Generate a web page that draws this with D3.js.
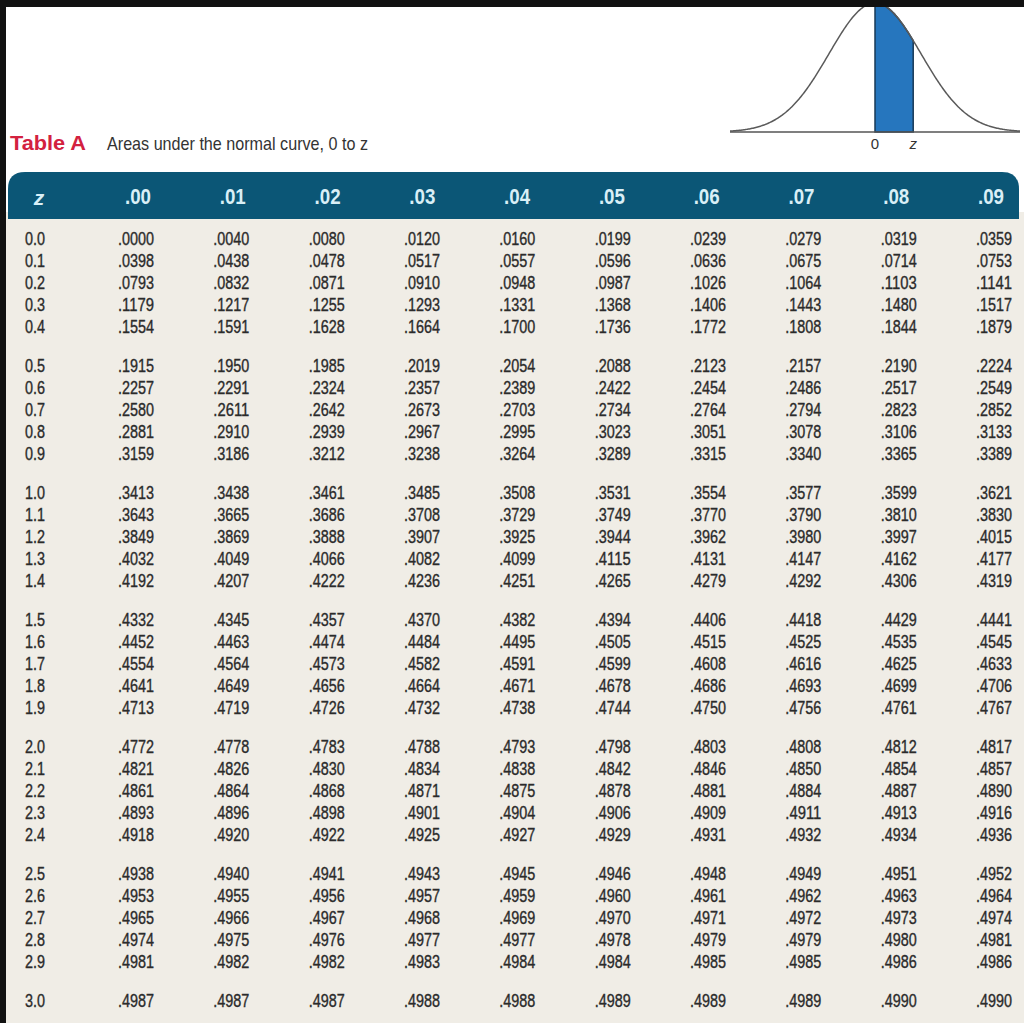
<!DOCTYPE html>
<html>
<head>
<meta charset="utf-8">
<script src="https://cdn.jsdelivr.net/npm/d3@7"></script>
<style>
  html, body { margin: 0; padding: 0; background: #fff; }
  svg { display: block; }
  text { font-family: "Liberation Sans", Arial, sans-serif; }
</style>
</head>
<body>
<div id="chart"></div>
<script>
const WIDTH = 1024
const HEIGHT = 1023

// Row labels (z to one decimal) and column headers (second decimal)
const zRows = [
    0.0, 0.1, 0.2, 0.3, 0.4, 0.5, 0.6, 0.7, 0.8, 0.9,
    1.0, 1.1, 1.2, 1.3, 1.4, 1.5, 1.6, 1.7, 1.8, 1.9,
    2.0, 2.1, 2.2, 2.3, 2.4, 2.5, 2.6, 2.7, 2.8, 2.9,
    3.0
]
const colHeaders = ['.00', '.01', '.02', '.03', '.04', '.05', '.06', '.07', '.08', '.09']

// Areas under the normal curve, 0 to z (one row per z)
const areas = [
    [0.0000, 0.0040, 0.0080, 0.0120, 0.0160, 0.0199, 0.0239, 0.0279, 0.0319, 0.0359],
    [0.0398, 0.0438, 0.0478, 0.0517, 0.0557, 0.0596, 0.0636, 0.0675, 0.0714, 0.0753],
    [0.0793, 0.0832, 0.0871, 0.0910, 0.0948, 0.0987, 0.1026, 0.1064, 0.1103, 0.1141],
    [0.1179, 0.1217, 0.1255, 0.1293, 0.1331, 0.1368, 0.1406, 0.1443, 0.1480, 0.1517],
    [0.1554, 0.1591, 0.1628, 0.1664, 0.1700, 0.1736, 0.1772, 0.1808, 0.1844, 0.1879],
    [0.1915, 0.1950, 0.1985, 0.2019, 0.2054, 0.2088, 0.2123, 0.2157, 0.2190, 0.2224],
    [0.2257, 0.2291, 0.2324, 0.2357, 0.2389, 0.2422, 0.2454, 0.2486, 0.2517, 0.2549],
    [0.2580, 0.2611, 0.2642, 0.2673, 0.2703, 0.2734, 0.2764, 0.2794, 0.2823, 0.2852],
    [0.2881, 0.2910, 0.2939, 0.2967, 0.2995, 0.3023, 0.3051, 0.3078, 0.3106, 0.3133],
    [0.3159, 0.3186, 0.3212, 0.3238, 0.3264, 0.3289, 0.3315, 0.3340, 0.3365, 0.3389],
    [0.3413, 0.3438, 0.3461, 0.3485, 0.3508, 0.3531, 0.3554, 0.3577, 0.3599, 0.3621],
    [0.3643, 0.3665, 0.3686, 0.3708, 0.3729, 0.3749, 0.3770, 0.3790, 0.3810, 0.3830],
    [0.3849, 0.3869, 0.3888, 0.3907, 0.3925, 0.3944, 0.3962, 0.3980, 0.3997, 0.4015],
    [0.4032, 0.4049, 0.4066, 0.4082, 0.4099, 0.4115, 0.4131, 0.4147, 0.4162, 0.4177],
    [0.4192, 0.4207, 0.4222, 0.4236, 0.4251, 0.4265, 0.4279, 0.4292, 0.4306, 0.4319],
    [0.4332, 0.4345, 0.4357, 0.4370, 0.4382, 0.4394, 0.4406, 0.4418, 0.4429, 0.4441],
    [0.4452, 0.4463, 0.4474, 0.4484, 0.4495, 0.4505, 0.4515, 0.4525, 0.4535, 0.4545],
    [0.4554, 0.4564, 0.4573, 0.4582, 0.4591, 0.4599, 0.4608, 0.4616, 0.4625, 0.4633],
    [0.4641, 0.4649, 0.4656, 0.4664, 0.4671, 0.4678, 0.4686, 0.4693, 0.4699, 0.4706],
    [0.4713, 0.4719, 0.4726, 0.4732, 0.4738, 0.4744, 0.4750, 0.4756, 0.4761, 0.4767],
    [0.4772, 0.4778, 0.4783, 0.4788, 0.4793, 0.4798, 0.4803, 0.4808, 0.4812, 0.4817],
    [0.4821, 0.4826, 0.4830, 0.4834, 0.4838, 0.4842, 0.4846, 0.4850, 0.4854, 0.4857],
    [0.4861, 0.4864, 0.4868, 0.4871, 0.4875, 0.4878, 0.4881, 0.4884, 0.4887, 0.4890],
    [0.4893, 0.4896, 0.4898, 0.4901, 0.4904, 0.4906, 0.4909, 0.4911, 0.4913, 0.4916],
    [0.4918, 0.4920, 0.4922, 0.4925, 0.4927, 0.4929, 0.4931, 0.4932, 0.4934, 0.4936],
    [0.4938, 0.4940, 0.4941, 0.4943, 0.4945, 0.4946, 0.4948, 0.4949, 0.4951, 0.4952],
    [0.4953, 0.4955, 0.4956, 0.4957, 0.4959, 0.4960, 0.4961, 0.4962, 0.4963, 0.4964],
    [0.4965, 0.4966, 0.4967, 0.4968, 0.4969, 0.4970, 0.4971, 0.4972, 0.4973, 0.4974],
    [0.4974, 0.4975, 0.4976, 0.4977, 0.4977, 0.4978, 0.4979, 0.4979, 0.4980, 0.4981],
    [0.4981, 0.4982, 0.4982, 0.4983, 0.4984, 0.4984, 0.4985, 0.4985, 0.4986, 0.4986],
    [0.4987, 0.4987, 0.4987, 0.4988, 0.4988, 0.4989, 0.4989, 0.4989, 0.4990, 0.4990]
]

// The shaded z in the little diagram
const shadedZ = 0.83

const HEADER_COLOR = '#0b5676'
const HEADER_TEXT = '#d9eff7'
const BODY_COLOR = '#f0ede6'
const TEXT_COLOR = '#2b2b2b'

// No condensed face is installed, so the condensed look of the
// printed table is made by squeezing each label to its printed width
const CELL_WIDTH = 36
const ZLABEL_WIDTH = 20
const HEADER_WIDTH = 26

// Rows come in blocks of five with a taller gap between blocks
const ROWS_PER_BLOCK = 5
const BLOCK_GAP = 0.75

const svg = d3.select('#chart')
    .append('svg')
    .attr('width', WIDTH)
    .attr('height', HEIGHT)

const rowPos = i => i + Math.floor(i / ROWS_PER_BLOCK) * BLOCK_GAP
const yscale = d3.scaleLinear()
    .domain([0, rowPos(zRows.length - 1)])
    .range([239, 1001])
const xscale = d3.scaleLinear().domain([0, colHeaders.length - 1]).range([118, 976])
const headerScale = d3.scaleLinear().domain([0, colHeaders.length - 1]).range([138, 991])

// Background: body panel and the dark frame edges of the scan
svg.append('rect')
    .attr('x', 6).attr('y', 212)
    .attr('width', WIDTH - 6).attr('height', HEIGHT - 212)
    .attr('fill', BODY_COLOR)
svg.append('rect')
    .attr('x', 0).attr('y', 0).attr('width', 6).attr('height', HEIGHT)
    .attr('fill', '#111')

// Header band with rounded top corners
const hx0 = 8, hx1 = 1019, hy0 = 172, hy1 = 219, r = 17
svg.append('path')
    .attr('d', `M${hx0},${hy1} L${hx0},${hy0 + r} Q${hx0},${hy0} ${hx0 + r},${hy0}
        L${hx1 - r},${hy0} Q${hx1},${hy0} ${hx1},${hy0 + r} L${hx1},${hy1} Z`)
    .attr('fill', HEADER_COLOR)

svg.append('text')
    .attr('x', 39).attr('y', 197)
    .attr('text-anchor', 'middle')
    .attr('dominant-baseline', 'central')
    .attr('font-size', 21)
    .attr('font-weight', 'bold')
    .attr('font-style', 'italic')
    .attr('fill', HEADER_TEXT)
    .text('z')

svg.append('g')
    .selectAll('text')
    .data(colHeaders)
    .enter()
    .append('text')
    .attr('x', (d, i) => headerScale(i) - HEADER_WIDTH / 2)
    .attr('y', 197)
    .attr('dominant-baseline', 'central')
    .attr('font-size', 21.5)
    .attr('font-weight', 'bold')
    .attr('textLength', HEADER_WIDTH)
    .attr('lengthAdjust', 'spacingAndGlyphs')
    .attr('fill', HEADER_TEXT)
    .text(d => d)

// Body rows
const fmtZ = d3.format('.1f')
const fmtArea = v => d3.format('.4f')(v).replace(/^0/, '')

const rows = svg.append('g')
    .selectAll('.row')
    .data(zRows)
    .enter()
    .append('g')
    .attr('class', 'row')
    .attr('transform', (d, i) => `translate(0,${yscale(rowPos(i))})`)

rows.append('text')
    .attr('x', 25)
    .attr('dominant-baseline', 'central')
    .attr('font-size', 17.5)
    .attr('textLength', ZLABEL_WIDTH)
    .attr('lengthAdjust', 'spacingAndGlyphs')
    .attr('fill', TEXT_COLOR)
    .attr('stroke', TEXT_COLOR)
    .attr('stroke-width', 0.35)
    .text(d => fmtZ(d))

rows.selectAll('.cell')
    .data((d, i) => areas[i])
    .enter()
    .append('text')
    .attr('class', 'cell')
    .attr('x', (d, j) => xscale(j))
    .attr('dominant-baseline', 'central')
    .attr('font-size', 17.5)
    .attr('textLength', CELL_WIDTH)
    .attr('lengthAdjust', 'spacingAndGlyphs')
    .attr('fill', TEXT_COLOR)
    .attr('stroke', TEXT_COLOR)
    .attr('stroke-width', 0.35)
    .text(d => fmtArea(d))

// Title
svg.append('text')
    .attr('x', 10).attr('y', 150)
    .attr('font-size', 21)
    .attr('font-weight', 'bold')
    .attr('textLength', 76)
    .attr('lengthAdjust', 'spacingAndGlyphs')
    .attr('fill', '#d3213f')
    .text('Table A')
svg.append('text')
    .attr('x', 107).attr('y', 150)
    .attr('font-size', 19)
    .attr('textLength', 261)
    .attr('lengthAdjust', 'spacingAndGlyphs')
    .attr('fill', '#333')
    .text('Areas under the normal curve, 0 to z')

// Normal curve diagram
const cx = d3.scaleLinear().domain([-3.15, 3.15]).range([730, 1020])
const cy = d3.scaleLinear().domain([0, 0.3989]).range([132, 3])
const pdf = z => Math.exp(-z * z / 2) / Math.sqrt(2 * Math.PI)

const diagram = svg.append('g')
diagram.append('path')
    .datum(d3.range(0, shadedZ + 0.001, 0.01))
    .attr('d', d3.area().x(d => cx(d)).y0(cy(0)).y1(d => cy(pdf(d))))
    .attr('fill', '#2676be')
    .attr('stroke', '#183a57')
    .attr('stroke-width', 1.5)
diagram.append('path')
    .datum(d3.range(-3.15, 3.151, 0.02))
    .attr('d', d3.line().x(d => cx(d)).y(d => cy(pdf(d))))
    .attr('fill', 'none')
    .attr('stroke', '#5a5a5a')
    .attr('stroke-width', 1.5)
diagram.append('line')
    .attr('x1', cx(-3.15)).attr('x2', cx(3.15))
    .attr('y1', cy(0)).attr('y2', cy(0))
    .attr('stroke', '#555')
    .attr('stroke-width', 1.5)
diagram.append('text')
    .attr('x', cx(0)).attr('y', 149)
    .attr('text-anchor', 'middle')
    .attr('font-size', 15)
    .attr('fill', '#333')
    .text('0')
diagram.append('text')
    .attr('x', cx(shadedZ)).attr('y', 149)
    .attr('text-anchor', 'middle')
    .attr('font-size', 15)
    .attr('font-style', 'italic')
    .attr('fill', '#333')
    .text('z')

// Black scan edge on top, over the clipped curve peak
svg.append('rect')
    .attr('x', 0).attr('y', 0).attr('width', WIDTH).attr('height', 7)
    .attr('fill', '#111')
</script>
</body>
</html>
